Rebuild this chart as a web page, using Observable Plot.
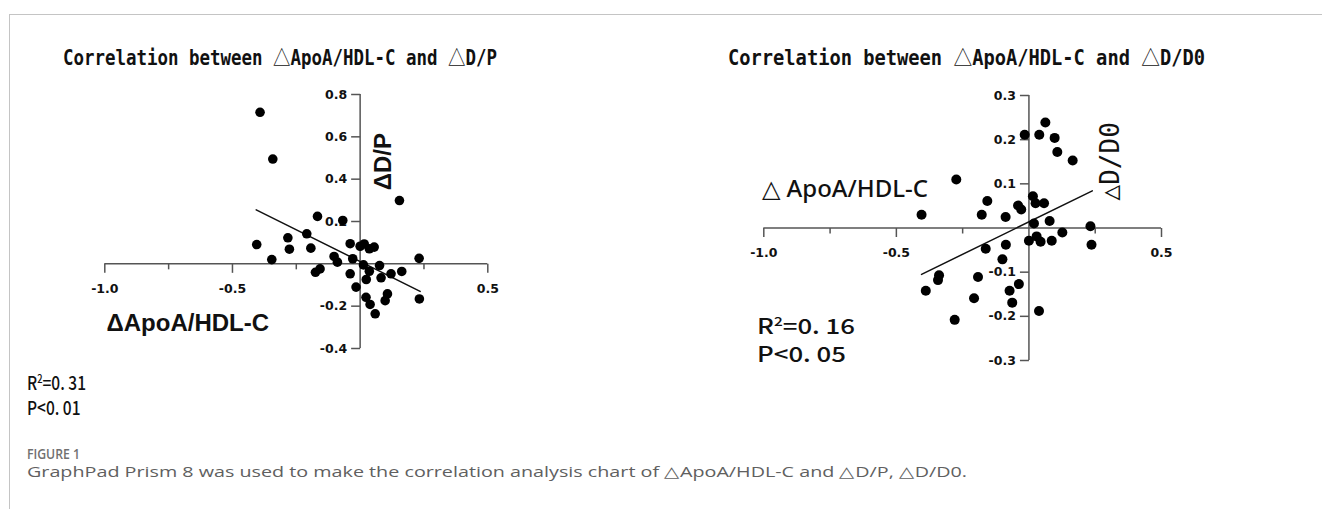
<!DOCTYPE html>
<html><head><meta charset="utf-8">
<script src="https://cdn.jsdelivr.net/npm/d3@7"></script>
<script src="https://cdn.jsdelivr.net/npm/@observablehq/plot@0.6"></script>
<style>
html,body{margin:0;padding:0;background:#fff;}
#page{position:relative;width:1322px;height:509px;overflow:hidden;background:#fff;}
.frame{position:absolute;left:9px;top:14px;right:-5px;bottom:-5px;border-top:1.5px solid #c4c4c4;border-left:1.5px solid #c4c4c4;}
.abs{position:absolute;white-space:nowrap;transform-origin:0 50%;line-height:1;}
.tri{font-family:"Noto Sans CJK SC",sans-serif;font-weight:400;}
</style>
</head><body>
<div id="page"><div class="frame"></div></div>
<script>
// ---------- data ----------
const leftX = [-0.392,-0.342,0.154,-0.167,-0.068,-0.209,-0.283,-0.277,-0.405,-0.346,-0.193,-0.039,0.000,0.016,0.036,0.055,-0.102,-0.089,-0.029,0.231,-0.175,-0.157,-0.039,0.013,0.036,0.076,0.024,0.082,0.121,0.163,-0.016,0.023,0.039,0.059,0.098,0.107,0.232];
const leftY = [0.716,0.495,0.299,0.224,0.205,0.142,0.123,0.069,0.091,0.020,0.074,0.095,0.083,0.094,0.071,0.079,0.035,0.008,0.024,0.026,-0.040,-0.024,-0.047,-0.005,-0.035,-0.008,-0.074,-0.066,-0.047,-0.036,-0.110,-0.158,-0.192,-0.236,-0.174,-0.142,-0.166];
const leftFitX = [-0.407, 0.235];
const leftFitY = [0.255, -0.130];
const leftXTicks = [-1.0, -0.5, 0.5];
const leftXMinor = [-0.75, -0.25, 0.25];
const leftYTicks = [-0.4, -0.2, 0.2, 0.4, 0.6, 0.8];

const rightX = [-0.016,0.039,0.062,0.097,0.107,0.165,-0.274,-0.405,-0.157,-0.178,-0.088,-0.041,-0.029,0.015,0.025,0.057,0.019,0.078,0.232,0.126,0.000,0.029,0.044,0.086,0.236,-0.087,-0.163,-0.100,-0.339,-0.343,-0.192,-0.389,-0.038,-0.073,-0.207,-0.280,-0.063,0.038];
const rightY = [0.211,0.211,0.239,0.204,0.172,0.153,0.110,0.030,0.061,0.030,0.025,0.051,0.042,0.072,0.056,0.056,0.010,0.016,0.004,-0.010,-0.029,-0.019,-0.031,-0.029,-0.038,-0.038,-0.047,-0.071,-0.107,-0.118,-0.111,-0.142,-0.127,-0.142,-0.159,-0.208,-0.169,-0.188];
const rightFitX = [-0.405, 0.239];
const rightFitY = [-0.105, 0.084];
const rightXTicks = [-1.0, -0.5, 0.5];
const rightXMinor = [-0.75, -0.25, 0.25];
const rightYTicks = [-0.3, -0.2, -0.1, 0.1, 0.2, 0.3];

const titles = ["Correlation between \u25B3ApoA/HDL-C and \u25B3D/P", "Correlation between \u25B3ApoA/HDL-C and \u25B3D/D0"];
const stats = [["R<span style=\"font-size:0.6em;position:relative;top:-0.65em\">2</span>=0. 31", "P&lt;0. 01"], ["R<span style=\"font-size:0.6em;position:relative;top:-0.65em\">2</span>=0. 16", "P&lt;0. 05"]];
const figLabel = "FIGURE 1";
const caption = "GraphPad Prism 8 was used to make the correlation analysis chart of \u25B3ApoA/HDL-C and \u25B3D/P, \u25B3D/D0.";

// ---------- helpers ----------
const page = document.getElementById("page");
const tickDown = {draw(ctx, size){ const l = Math.sqrt(size/Math.PI); ctx.moveTo(0,0); ctx.lineTo(0,l); }};
const tickLeft = {draw(ctx, size){ const l = Math.sqrt(size/Math.PI); ctx.moveTo(0,0); ctx.lineTo(-l,0); }};
const axisColor = "#555";
const lblFont = {fontFamily: "DejaVu Sans, sans-serif", fontWeight: "bold", fontSize: 12.5, fill: "#111"};

function panel(xs, ys, fx, fy, xt, xm, yt, r, opts, extra) {
  const pts = xs.map((x, i) => ({x, y: ys[i]}));
  const fit = fx.map((x, i) => ({x, y: fy[i]}));
  return Plot.plot({
    width: opts.width, height: opts.height,
    marginLeft: opts.ml, marginRight: opts.mr, marginTop: opts.mt, marginBottom: opts.mb,
    x: {domain: opts.xd, axis: null},
    y: {domain: opts.yd, axis: null},
    style: {background: "transparent", overflow: "visible"},
    marks: [
      Plot.ruleY([0], {x1: opts.xd[0], x2: opts.xd[1], stroke: axisColor, strokeWidth: 1.5}),
      Plot.ruleX([0], {y1: opts.yd[0], y2: opts.yd[1], stroke: axisColor, strokeWidth: 1.5}),
      Plot.dot(xt, {x: d => d, y: 0, symbol: tickDown, r: 9, fill: "none", stroke: axisColor, strokeWidth: 1.5}),
      Plot.dot(xm, {x: d => d, y: 0, symbol: tickDown, r: 5.5, fill: "none", stroke: axisColor, strokeWidth: 1.5}),
      Plot.dot(yt, {x: 0, y: d => d, symbol: tickLeft, r: 9, fill: "none", stroke: axisColor, strokeWidth: 1.5}),
      Plot.text(xt, {x: d => d, y: 0, text: d => d.toFixed(1), dy: 25, ...lblFont}),
      Plot.text(yt, {x: 0, y: d => d, text: d => d.toFixed(1), dx: -13, textAnchor: "end", ...lblFont}),
      Plot.line(fit, {x: "x", y: "y", stroke: "#111", strokeWidth: 1.5}),
      Plot.dot(pts, {x: "x", y: "y", r, fill: "#000", stroke: "none"}),
      ...extra
    ]
  });
}

const left = panel(leftX, leftY, leftFitX, leftFitY, leftXTicks, leftXMinor, leftYTicks, 4.8,
  {width: 660, height: 400, ml: 104.3, mr: 172.7, mt: 94, mb: 52, xd: [-1, 0.5], yd: [-0.4, 0.8]},
  [
    Plot.text(["\u0394D/P"], {x: 0.09, y: 0.483, text: d => d, rotate: -90, fontFamily: "Liberation Sans, Arial, sans-serif", fontWeight: "bold", fontSize: 24, fill: "#111"}),
    Plot.text(["\u0394ApoA/HDL-C"], {x: -0.675, y: -0.282, text: d => d, fontFamily: "Liberation Sans, Arial, sans-serif", fontWeight: "bold", fontSize: 24, fill: "#111", letterSpacing: -0.4})
  ]);
left.style.position = "absolute"; left.style.left = "0px"; left.style.top = "0px";
page.appendChild(left);

const right = panel(rightX, rightY, rightFitX, rightFitY, rightXTicks, rightXMinor, rightYTicks, 5,
  {width: 662, height: 400, ml: 103.3, mr: 161, mt: 95, mb: 40, xd: [-1, 0.5], yd: [-0.3, 0.3]},
  [
    Plot.text(["\u25B3D/D0"], {x: 0.308, y: 0.151, text: d => d, rotate: -90, fontFamily: "DejaVu Sans Mono, monospace", fontSize: 26, fill: "#111"}),
    Plot.text(["\u25B3 ApoA/HDL-C"], {x: -0.693, y: 0.0876, text: d => d, fontFamily: "Noto Sans, sans-serif", fontWeight: 500, fontSize: 24, fill: "#111"})
  ]);
right.style.position = "absolute"; right.style.left = "660px"; right.style.top = "0px";
page.appendChild(right);

function place(html, x, cy, w, style) {
  const el = document.createElement("div");
  el.className = "abs";
  el.innerHTML = html;
  Object.assign(el.style, style);
  page.appendChild(el);
  const r = el.getBoundingClientRect();
  el.style.left = x + "px";
  el.style.top = (cy - r.height / 2) + "px";
  if (w) el.style.transform = `scaleX(${w / r.width})`;
  return el;
}
const tri = s => s.replace(/\u25B3/g, '<span class="tri">\u25B3</span>');
const titleStyle = {fontFamily: "DejaVu Sans Mono, monospace", fontWeight: "bold", fontSize: "21px", color: "#111"};
place(tri(titles[0]), 63, 57, 434, titleStyle);
place(tri(titles[1]), 728, 57, 477, titleStyle);

const statStyleL = {fontFamily: "Noto Sans CJK SC, sans-serif", fontWeight: "500", fontSize: "19px", color: "#111", lineHeight: "21px"};
const statStyleR = {fontFamily: "Noto Sans CJK SC, sans-serif", fontWeight: "500", fontSize: "21px", color: "#111", lineHeight: "24px"};
place(stats[0].join("<br>"), 27, 394, 59, statStyleL);
place(stats[1].join("<br>"), 757, 339, 98, statStyleR);

place(figLabel, 27, 453, 53, {fontFamily: "Open Sans, sans-serif", fontWeight: "600", fontSize: "15px", color: "#707070", height: "15px"});
place(caption, 27, 471, 940, {fontFamily: "Open Sans, sans-serif", fontSize: "15px", color: "#606060", height: "15px"});
</script>
</body></html>
